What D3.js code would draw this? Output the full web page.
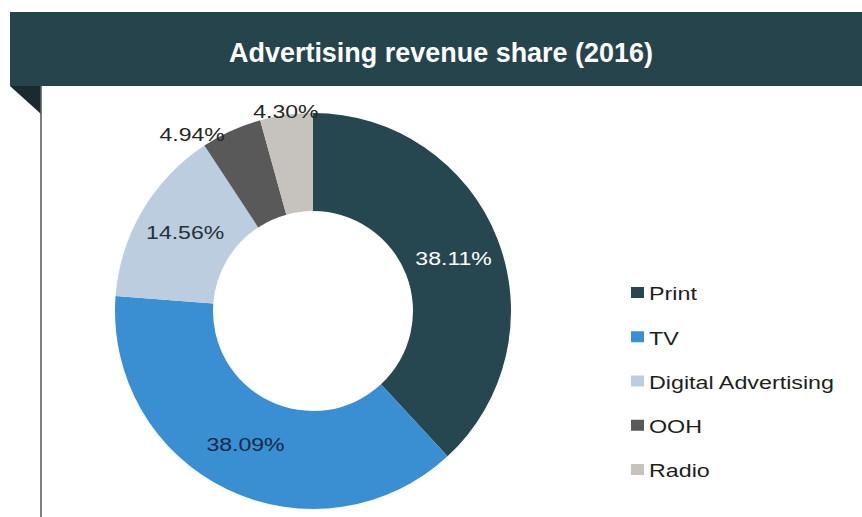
<!DOCTYPE html>
<html>
<head>
<meta charset="utf-8">
<script src="https://cdn.jsdelivr.net/npm/d3@7/dist/d3.min.js"></script>
<style>
  html, body { margin: 0; padding: 0; background: #ffffff; }
  svg { display: block; }
  text { font-family: "Liberation Sans", Arial, sans-serif; }
</style>
</head>
<body>
<svg id="chart" width="862" height="517"></svg>
<script>
// ---- data ----
const title = "Advertising revenue share (2016)";
const categories = ["Print", "TV", "Digital Advertising", "OOH", "Radio"];
const values = [38.11, 38.09, 14.56, 4.94, 4.30];
const labels = ["38.11%", "38.09%", "14.56%", "4.94%", "4.30%"];
const colors = ["#264750", "#3a8fd3", "#bccde0", "#595959", "#c6c2be"];
const labelColors = ["#ffffff", "#14284a", "#26303a", "#262626", "#262626"];
// label layout: radius from centre and angular shift (degrees)
const labelRadius = [150, 150, 150, 214, 201];
const labelShift = [1, 1, 1, -10, 0];

const W = 862, H = 517;
const svg = d3.select("#chart");

// header band
svg.append("rect").attr("x", 10).attr("y", 12).attr("width", W - 10).attr("height", 74)
  .attr("fill", "#25444c");
// folded ribbon corner
svg.append("path").attr("d", "M10,86 L41,86 L41,114 Z").attr("fill", "#1b2a2e");
// left rule
svg.append("line").attr("x1", 41).attr("x2", 41).attr("y1", 86).attr("y2", H)
  .attr("stroke", "#5e5e5e").attr("stroke-width", 1.6);

svg.append("text").attr("x", 441).attr("y", 62)
  .attr("text-anchor", "middle").attr("fill", "#ffffff")
  .attr("font-size", 27).attr("font-weight", "bold")
  .attr("textLength", 424).attr("lengthAdjust", "spacingAndGlyphs")
  .text(title);

// donut
const cx = 313, cy = 311, rOuter = 198, rInner = 100;
const pie = d3.pie().sort(null).value(d => d);
const arcs = pie(values);
const arc = d3.arc().innerRadius(rInner).outerRadius(rOuter);
const g = svg.append("g").attr("transform", `translate(${cx},${cy})`);
g.selectAll("path.slice").data(arcs).join("path")
  .attr("class", "slice")
  .attr("d", arc)
  .attr("fill", (d, i) => colors[i]);

const xStretch = 1.28;
g.selectAll("text.lbl").data(arcs).join("text")
  .attr("class", "lbl")
  .each(function (d, i) {
    const a = (d.startAngle + d.endAngle) / 2 + labelShift[i] * Math.PI / 180;
    const r = labelRadius[i];
    d3.select(this)
      .attr("x", r * Math.sin(a))
      .attr("y", -r * Math.cos(a))
      .attr("dy", "0.36em");
  })
  .attr("text-anchor", "middle")
  .attr("font-size", 18)
  .attr("fill", (d, i) => labelColors[i])
  .text((d, i) => labels[i])
  .each(function () {
    const w = this.getComputedTextLength();
    d3.select(this).attr("textLength", w * xStretch).attr("lengthAdjust", "spacingAndGlyphs");
  });

// legend
const legend = svg.append("g");
const ly = d3.scalePoint().domain(categories).range([293, 470]);
const items = legend.selectAll("g").data(categories).join("g")
  .attr("transform", d => `translate(631,${ly(d)})`);
items.append("rect").attr("x", 0).attr("y", -6).attr("width", 13).attr("height", 11)
  .attr("fill", (d, i) => colors[i]);
items.append("text").attr("x", 18).attr("y", 1).attr("dy", "0.36em")
  .attr("font-size", 17.5).attr("fill", "#1e1e1e")
  .text(d => d)
  .each(function () {
    const w = this.getComputedTextLength();
    d3.select(this).attr("textLength", w * 1.33).attr("lengthAdjust", "spacingAndGlyphs");
  });
</script>
</body>
</html>
